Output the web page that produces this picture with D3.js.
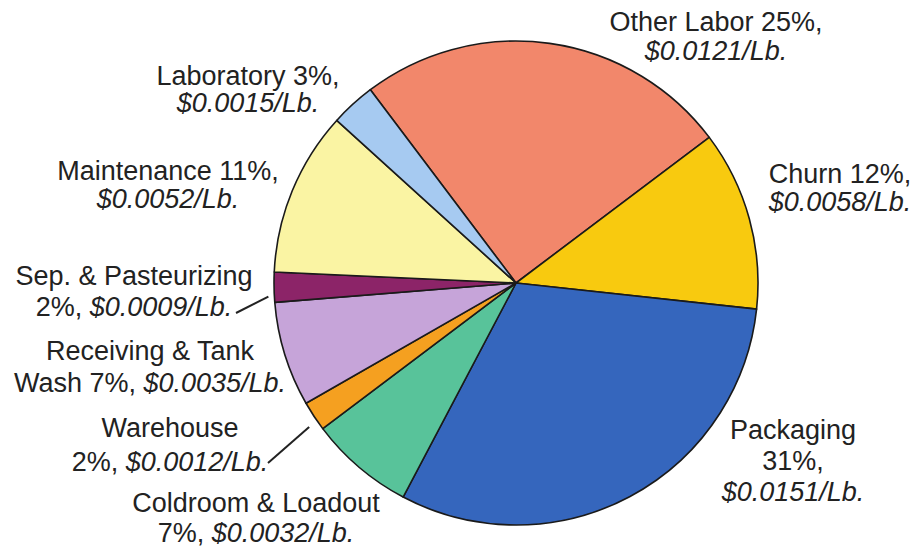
<!DOCTYPE html>
<html>
<head>
<meta charset="utf-8">
<script src="https://cdn.jsdelivr.net/npm/d3@7"></script>
<style>
  html, body { margin: 0; padding: 0; background: #ffffff; }
  svg text { font-family: "Liberation Sans", Arial, Helvetica, sans-serif; fill: #222; }
</style>
</head>
<body>
<script>
'use strict';

// slices, clockwise from the top-right edge of "Other Labor"
const categories = ["Other Labor", "Churn", "Packaging", "Coldroom & Loadout", "Warehouse",
  "Receiving & Tank Wash", "Sep. & Pasteurizing", "Maintenance", "Laboratory"];
const percents = [25, 12, 31, 7, 2, 7, 2, 11, 3];
const costs = [0.0121, 0.0058, 0.0151, 0.0032, 0.0012, 0.0035, 0.0009, 0.0052, 0.0015];
const colors = ["#f2876b", "#f8ca0f", "#3566bd", "#58c39a", "#f5a020",
  "#c6a4d9", "#8c2468", "#faf4a3", "#a6caf1"];

const m = { width: 915, height: 548 };
const pie = { cx: 516, cy: 283, r: 242, start: -37 };

// label layout: {n} name, {p} percent, {c} cost (italic)
const labels = [
  { x: 716, y: 31, dy: 29, lines: ["{n} {p},", "{c}"] },
  { x: 840, y: 183, dy: 28, lines: ["{n} {p},", "{c}"] },
  { x: 793, y: 439, dy: 31, lines: ["{n}", "{p},", "{c}"] },
  { x: 256, y: 512, dy: 30, lines: ["{n}", "{p}, {c}"] },
  { x: 170, y: 437, dy: 34, lines: ["{n}", "{p}, {c}"] },
  { x: 150, y: 360, dy: 32, lines: ["Receiving & Tank", "Wash {p}, {c}"] },
  { x: 134, y: 285, dy: 31, lines: ["{n}", "{p}, {c}"] },
  { x: 168, y: 180, dy: 28, lines: ["{n} {p},", "{c}"] },
  { x: 248, y: 85, dy: 27, lines: ["{n} {p},", "{c}"] }
];

// leader lines from label text to the small slices
const leaders = [
  { i: 6, frac: 0.2, rOut: 6, x: 236, y: 313 },
  { i: 4, frac: 0.3, rOut: 10, x: 268, y: 463 }
];

const svg = d3.select('body')
  .append('svg')
  .attr('width', m.width)
  .attr('height', m.height);

const toRad = (deg) => deg * Math.PI / 180;

const arcs = d3.pie()
  .sort(null)
  .value((d) => d)
  .startAngle(toRad(pie.start))
  .endAngle(toRad(pie.start + 360))(percents);

const arc = d3.arc().innerRadius(0).outerRadius(pie.r);

const g = svg.append('g')
  .attr('transform', 'translate(' + pie.cx + ',' + pie.cy + ')');

g.selectAll('path')
  .data(arcs)
  .enter()
  .append('path')
  .attr('d', arc)
  .attr('fill', (d, i) => colors[i])
  .attr('stroke', '#1a1a1a')
  .attr('stroke-width', 1.6)
  .attr('stroke-linejoin', 'round');

// leader lines
leaders.forEach((l) => {
  const a = arcs[l.i];
  const ang = a.startAngle + (a.endAngle - a.startAngle) * l.frac;
  const rr = pie.r + l.rOut;
  svg.append('line')
    .attr('x1', l.x)
    .attr('y1', l.y)
    .attr('x2', pie.cx + rr * Math.sin(ang))
    .attr('y2', pie.cy - rr * Math.cos(ang))
    .attr('stroke', '#222')
    .attr('stroke-width', 2);
});

// labels
labels.forEach((lab, i) => {
  const cost = '$' + costs[i].toFixed(4) + '/Lb.';
  const text = svg.append('text')
    .attr('text-anchor', 'middle')
    .style('font-size', '27px');
  lab.lines.forEach((line, k) => {
    const tl = text.append('tspan')
      .attr('x', lab.x)
      .attr('y', lab.y + k * lab.dy);
    const s = line.replace('{n}', categories[i]).replace('{p}', percents[i] + '%');
    const parts = s.split('{c}');
    tl.append('tspan').text(parts[0]);
    if (parts.length > 1) {
      tl.append('tspan').style('font-style', 'italic').text(cost);
    }
  });
});
</script>
</body>
</html>
